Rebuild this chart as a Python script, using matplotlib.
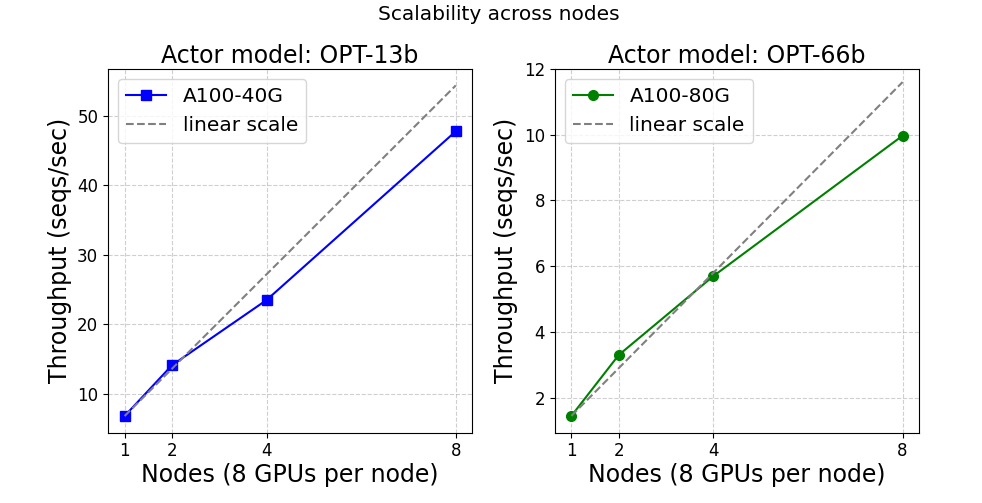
import matplotlib
matplotlib.use("Agg")
import matplotlib.pyplot as plt

nodes = [1, 2, 4, 8]

# OPT-13b on A100-40G
thr_13b = [6.8, 14.1, 23.5, 47.8]
# OPT-66b on A100-80G
thr_66b = [1.45, 3.3, 5.7, 9.97]

linear_13b = [thr_13b[0] * n for n in nodes]
linear_66b = [thr_66b[0] * n for n in nodes]

fig = plt.figure(figsize=(9.82, 5.03), dpi=100)
ax1 = fig.add_axes([0.110, 0.140, 0.371, 0.723])
ax2 = fig.add_axes([0.565, 0.140, 0.371, 0.723])

fig.suptitle("Scalability across nodes", fontsize=14.5, x=0.508, y=0.99)

ax1.plot(nodes, thr_13b, color="blue", marker="s", markersize=7, label="A100-40G")
ax1.plot(nodes, linear_13b, color="gray", linestyle="--", label="linear scale")
ax1.set_title("Actor model: OPT-13b", fontsize=17, pad=4)

ax2.plot(nodes, thr_66b, color="green", marker="o", markersize=7, label="A100-80G")
ax2.plot(nodes, linear_66b, color="gray", linestyle="--", label="linear scale")
ax2.set_title("Actor model: OPT-66b", fontsize=17, pad=4)
ax2.set_yticks([2, 4, 6, 8, 10, 12])

for ax in (ax1, ax2):
    ax.set_xticks(nodes)
    ax.set_xlabel("Nodes (8 GPUs per node)", fontsize=17, labelpad=2)
    ax.set_ylabel("Throughput (seqs/sec)", fontsize=17)
    ax.tick_params(labelsize=12)
    ax.grid(True, linestyle="--", alpha=0.6)
    ax.legend(fontsize=14.5, loc="upper left")

ax2.set_ylim(top=12)

fig.savefig("out.png", dpi=100)
